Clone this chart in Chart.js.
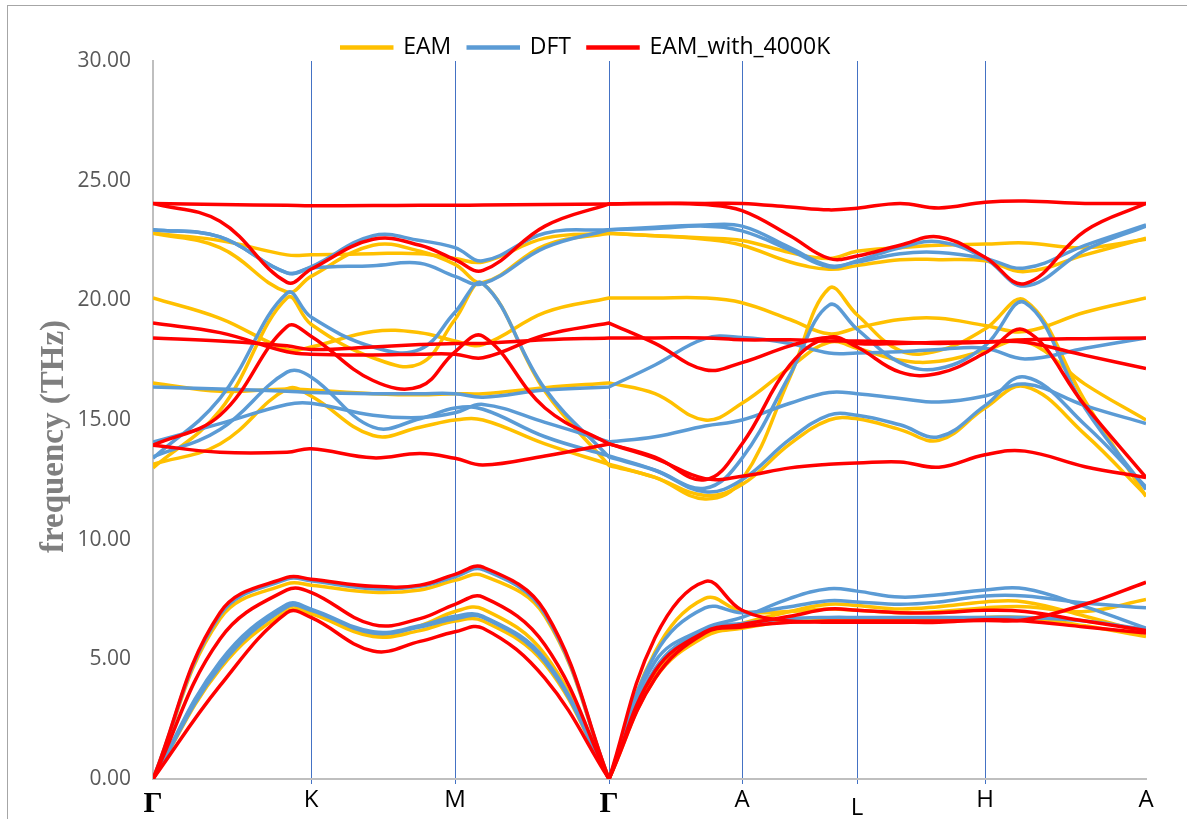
<!DOCTYPE html>
<html>
<head>
<meta charset="utf-8">
<script src="https://cdn.jsdelivr.net/npm/chart.js@4.4.1/dist/chart.umd.min.js"></script>
<style>
  html, body { margin: 0; padding: 0; background: #fff; }
  #wrap { position: relative; width: 1187px; height: 819px; }
  #frame { position: absolute; left: 7px; top: 5px; right: 0; bottom: 0;
           border-left: 1px solid #a6a6a6; border-top: 1px solid #a6a6a6; pointer-events: none; }
</style>
</head>
<body>
<div id="wrap"><canvas id="chart"></canvas><div id="frame"></div></div>
<script>
// k-path distance of each sample (Γ appears twice in the middle: end of Γ-K-M-Γ, start of Γ-A-L-H-A)
const kPath = [0, 0.67, 1.34, 1.58, 2.2, 2.67, 3.02, 3.3, 3.92, 4.56,
               4.56, 5.02, 5.52, 5.89, 6.37, 6.76, 7.04, 7.47, 7.86, 8.32, 8.72, 9.32, 9.93];

// high-symmetry points
const symPos = [0, 1.58, 3.02, 4.56, 5.89, 7.04, 8.32, 9.93];
const symLabels = ['Γ', 'K', 'M', 'Γ', 'A', 'L', 'H', 'A'];

// EAM bands (THz)
const eamBands = [
  [22.8, 22.5, 21.9, 21.9, 21.95, 21.95, 21.75, 21.6, 22.6, 22.8, 22.8, 22.7, 22.6, 22.5, 22.0, 21.75, 22.05, 22.2, 22.3, 22.35, 22.4, 22.2, 22.55],
  [22.8, 22.2, 20.35, 21.0, 22.3, 22.05, 21.5, 20.75, 22.3, 22.8, 22.8, 22.7, 22.55, 22.3, 21.6, 21.3, 21.45, 21.7, 21.7, 21.65, 21.2, 21.9, 22.6],
  [20.1, 19.25, 17.95, 18.05, 18.7, 18.65, 18.3, 18.15, 19.5, 20.1, 20.1, 20.1, 20.1, 19.9, 19.2, 18.6, 18.85, 19.2, 19.25, 18.95, 18.7, 19.5, 20.1],
  [16.55, 16.2, 16.3, 16.25, 16.1, 16.05, 16.1, 16.1, 16.35, 16.55, 16.55, 16.1, 15.0, 15.7, 17.2, 18.25, 18.0, 17.5, 17.45, 17.9, 18.3, 16.5, 15.0],
  [13.0, 15.4, 20.1, 19.0, 17.6, 17.35, 19.2, 20.7, 16.2, 13.1, 13.1, 12.6, 11.7, 12.5, 16.8, 20.5, 19.4, 17.9, 17.9, 18.8, 20.0, 15.8, 11.8],
  [13.15, 14.0, 16.3, 16.0, 14.35, 14.7, 15.0, 15.0, 14.0, 13.15, 13.15, 12.6, 11.85, 12.3, 14.0, 15.0, 15.05, 14.6, 14.15, 15.5, 16.4, 14.4, 11.85],
  [0, 6.7, 8.15, 8.1, 7.8, 7.9, 8.3, 8.5, 6.8, 0, 0, 5.3, 7.55, 7.0, 7.0, 7.1, 7.05, 6.95, 7.0, 7.15, 7.2, 7.0, 7.5],
  [0, 4.8, 7.15, 7.0, 6.05, 6.4, 7.0, 7.1, 5.2, 0, 0, 4.4, 6.0, 6.5, 7.0, 7.3, 7.25, 7.1, 7.2, 7.4, 7.4, 6.8, 6.1],
  [0, 4.6, 7.0, 6.9, 5.95, 6.2, 6.6, 6.6, 4.8, 0, 0, 4.2, 5.95, 6.3, 6.6, 6.7, 6.7, 6.65, 6.7, 6.75, 6.75, 6.4, 5.95]
];

// DFT bands (THz)
const dftBands = [
  [22.95, 22.65, 21.15, 21.4, 22.7, 22.5, 22.2, 21.65, 22.8, 22.95, 22.95, 23.05, 23.15, 23.1, 22.2, 21.45, 21.6, 21.95, 22.0, 21.75, 21.35, 22.3, 23.15],
  [22.95, 22.65, 21.15, 21.35, 21.45, 21.55, 21.0, 20.7, 22.2, 22.95, 22.95, 23.0, 23.1, 22.9, 22.1, 21.4, 21.65, 22.2, 22.45, 21.75, 20.6, 22.1, 23.1],
  [13.4, 15.9, 20.3, 19.3, 18.05, 17.95, 19.5, 20.7, 16.3, 13.45, 13.45, 12.9, 12.15, 13.4, 16.9, 19.8, 18.8, 17.4, 17.15, 18.1, 19.9, 15.5, 12.1],
  [16.38, 16.3, 16.2, 16.15, 16.1, 16.1, 16.1, 15.95, 16.25, 16.38, 16.38, 17.3, 18.4, 18.45, 18.2, 17.8, 17.8, 17.85, 17.95, 18.0, 17.55, 18.0, 18.43],
  [14.08, 14.85, 15.65, 15.7, 15.2, 15.1, 15.3, 15.65, 14.9, 14.08, 14.08, 14.3, 14.75, 15.0, 15.7, 16.15, 16.1, 15.9, 15.75, 16.0, 16.5, 15.6, 14.85],
  [13.46, 14.6, 17.0, 16.8, 14.7, 15.05, 15.5, 15.45, 14.3, 13.5, 13.5, 12.9, 12.0, 12.5, 14.2, 15.2, 15.2, 14.8, 14.3, 15.6, 16.8, 14.8, 12.2],
  [0, 6.85, 8.35, 8.28, 7.95, 8.05, 8.45, 8.75, 6.9, 0, 0, 4.9, 6.3, 6.75, 7.55, 7.95, 7.85, 7.6, 7.7, 7.9, 7.95, 7.2, 6.3],
  [0, 4.9, 7.3, 7.1, 6.15, 6.4, 6.8, 6.8, 5.0, 0, 0, 5.2, 7.15, 6.95, 7.2, 7.45, 7.4, 7.3, 7.4, 7.65, 7.65, 7.35, 7.15],
  [0, 4.7, 7.2, 7.05, 6.1, 6.35, 6.7, 6.75, 4.9, 0, 0, 4.6, 6.25, 6.5, 6.7, 6.75, 6.75, 6.75, 6.75, 6.75, 6.75, 6.6, 6.25]
];

// EAM_with_4000K bands (THz)
const hotBands = [
  [24.05, 24.0, 23.97, 23.95, 23.96, 23.97, 23.97, 23.98, 24.0, 24.03, 24.03, 24.05, 24.05, 24.05, 23.9, 23.78, 23.85, 24.05, 23.86, 24.1, 24.15, 24.05, 24.05],
  [24.05, 23.3, 20.75, 21.3, 22.55, 22.3, 21.7, 21.25, 23.1, 24.03, 24.03, 24.05, 24.0, 23.75, 22.7, 21.75, 21.85, 22.3, 22.65, 21.8, 20.7, 22.9, 24.05],
  [19.05, 18.65, 17.85, 17.75, 17.72, 17.75, 17.75, 17.6, 18.55, 19.05, 19.05, 18.2, 17.1, 17.4, 18.1, 18.45, 18.2, 18.2, 18.25, 18.27, 18.25, 17.7, 17.15],
  [18.43, 18.3, 18.1, 17.95, 18.05, 18.15, 18.2, 18.2, 18.35, 18.43, 18.43, 18.43, 18.43, 18.35, 18.35, 18.3, 18.3, 18.25, 18.2, 18.25, 18.35, 18.4, 18.43],
  [13.95, 15.2, 18.9, 18.5, 16.65, 16.4, 17.85, 18.5, 15.5, 14.0, 14.0, 13.45, 12.5, 14.0, 17.3, 18.45, 18.05, 17.0, 16.95, 17.8, 18.75, 15.6, 12.6],
  [13.95, 13.65, 13.65, 13.8, 13.42, 13.6, 13.4, 13.12, 13.5, 14.0, 14.0, 13.4, 12.55, 12.65, 13.0, 13.15, 13.2, 13.25, 13.03, 13.55, 13.7, 13.05, 12.6],
  [0, 6.95, 8.42, 8.35, 8.05, 8.1, 8.55, 8.85, 7.0, 0, 0, 5.9, 8.25, 7.05, 6.6, 6.6, 6.6, 6.6, 6.6, 6.62, 6.65, 7.3, 8.22],
  [0, 5.85, 7.9, 7.8, 6.45, 6.7, 7.3, 7.6, 5.6, 0, 0, 4.5, 6.15, 6.45, 6.8, 7.1, 7.05, 6.95, 6.95, 7.05, 7.0, 6.6, 6.2],
  [0, 3.9, 6.95, 6.75, 5.35, 5.75, 6.15, 6.3, 4.2, 0, 0, 4.2, 6.1, 6.35, 6.55, 6.55, 6.55, 6.55, 6.55, 6.65, 6.6, 6.35, 6.1]
];

Chart.defaults.font.family = "'Open Sans', sans-serif";

// red first so it is painted on top, then blue, then yellow
const models = [
  { label: 'EAM_with_4000K', color: '#FF0000', bands: hotBands },
  { label: 'DFT', color: '#5B9BD5', bands: dftBands },
  { label: 'EAM', color: '#FFC000', bands: eamBands }
];

const datasets = models.flatMap((model) =>
  model.bands.map((band) => ({
    label: model.label,
    data: band.map((v, i) => ({ x: kPath[i], y: v })),
    borderColor: model.color,
    backgroundColor: model.color,
    borderWidth: 3.5,
    pointRadius: 0,
    tension: 0.4,
    fill: false
  }))
);

const lastTick = symPos.length - 1;
const labelFont = { family: "'Open Sans', sans-serif", size: 24 };

// the "L" label sits a little lower than the others in the original figure
const lowLabelPlugin = {
  id: 'lowLabel',
  afterDraw(chart) {
    const { ctx, scales: { x } } = chart;
    const i = symLabels.indexOf('L');
    ctx.save();
    ctx.fillStyle = '#000000';
    ctx.font = `${labelFont.size}px ${labelFont.family}`;
    ctx.textAlign = 'center';
    ctx.textBaseline = 'middle';
    ctx.fillText('L', x.getPixelForValue(symPos[i]), 808);
    ctx.restore();
  }
};

// nudge the legend row a bit right, where the original has it
const legendShiftPlugin = {
  id: 'legendShift',
  afterLayout(chart) {
    if (!chart.legend) return;
    chart.legend.left += 13;
    chart.legend.right += 13;
  }
};

new Chart(document.getElementById('chart'), {
  type: 'line',
  data: { datasets },
  plugins: [lowLabelPlugin, legendShiftPlugin],
  options: {
    responsive: true,
    maintainAspectRatio: false,
    animation: false,
    layout: { padding: { top: 19, right: 41, left: 0, bottom: 0 } },
    plugins: {
      tooltip: { enabled: false },
      legend: {
        position: 'top',
        maxHeight: 42,
        labels: {
          boxWidth: 50,
          boxHeight: 1,
          padding: 17,
          color: '#000000',
          font: { size: 23 },
          filter: (item, data) => data.datasets.findIndex((d) => d.label === item.text) === item.datasetIndex,
          sort: (a, b) => b.datasetIndex - a.datasetIndex
        }
      }
    },
    scales: {
      x: {
        type: 'linear',
        min: 0,
        max: 9.93,
        afterBuildTicks: (scale) => { scale.ticks = symPos.map((v) => ({ value: v })); },
        afterFit: (scale) => { scale.height = 40; },
        ticks: {
          autoSkip: false,
          maxRotation: 0,
          padding: 2,
          color: '#000000',
          callback: (value, index) => (symLabels[index] === 'L' ? '' : symLabels[index]),
          font: (ctx) => symLabels[ctx.index] === 'Γ'
            ? { family: "'Liberation Serif', serif", size: 30, weight: 'bold' }
            : labelFont
        },
        grid: {
          color: (ctx) => (ctx.index === 0 || ctx.index === lastTick) ? 'rgba(0,0,0,0)' : '#4472C4',
          lineWidth: 1,
          tickLength: 5
        },
        border: { color: '#BFBFBF', width: 2 }
      },
      y: {
        min: 0,
        max: 30,
        afterFit: (scale) => { scale.width = 153; },
        ticks: {
          stepSize: 5,
          padding: 22,
          color: '#595959',
          font: { size: 21 },
          callback: (value) => value.toFixed(2)
        },
        grid: { display: false, drawTicks: false },
        border: { color: '#BFBFBF', width: 2 },
        title: {
          display: true,
          text: 'frequency (THz)\u00A0\u00A0\u00A0\u00A0',
          color: '#7F7F7F',
          font: { family: "'Liberation Serif', serif", size: 33, weight: 'bold' },
          padding: { top: 35 }
        }
      }
    }
  }
});
</script>
</body>
</html>
